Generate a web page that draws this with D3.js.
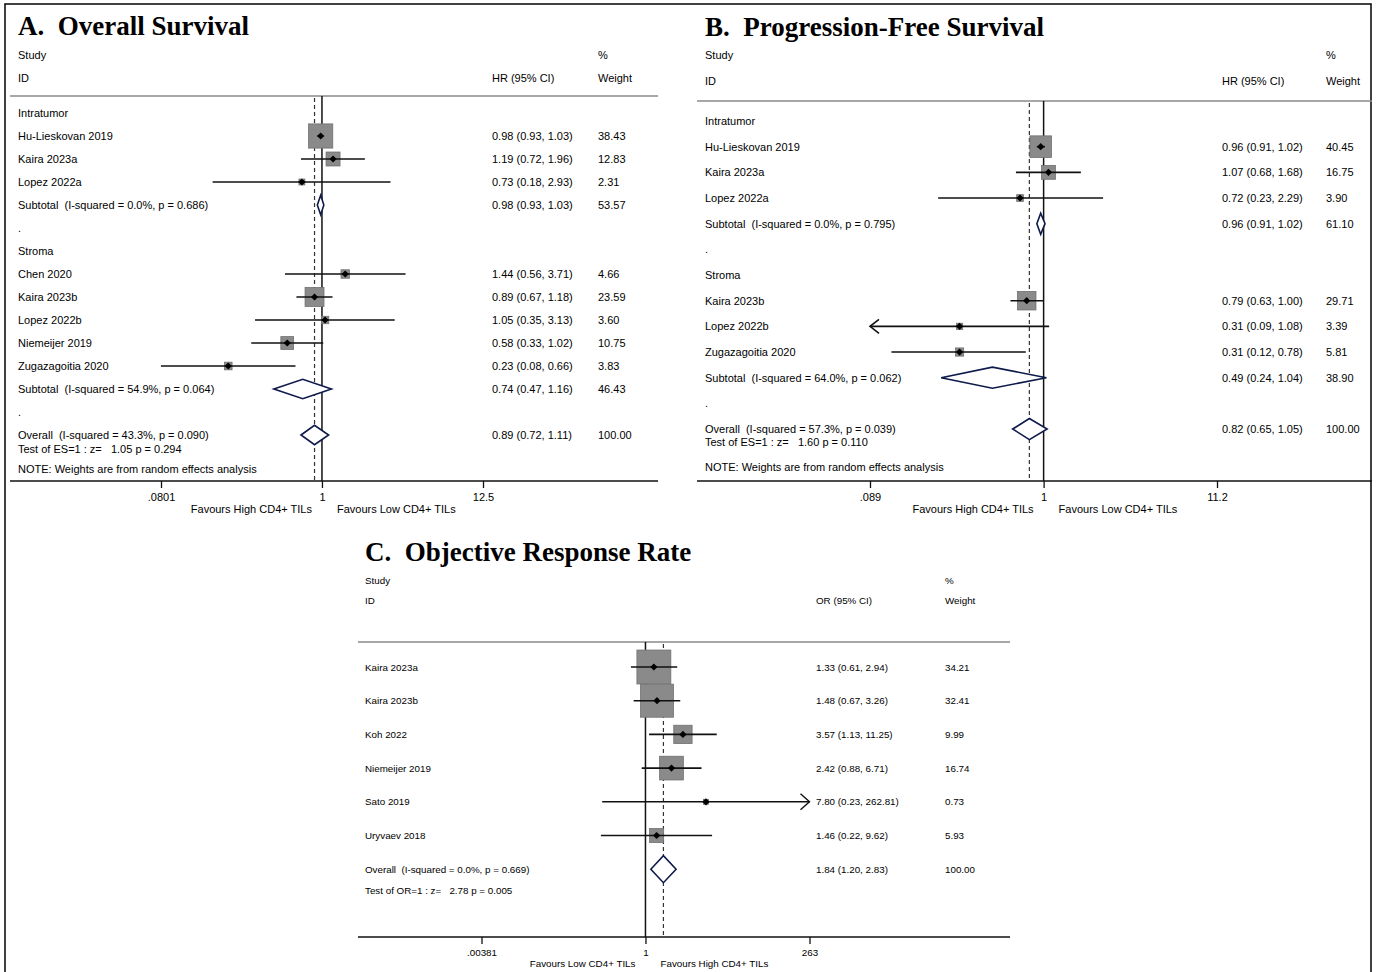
<!DOCTYPE html>
<html>
<head>
<meta charset="utf-8">
<script src="https://cdn.jsdelivr.net/npm/d3@7"></script>
<style>
  html, body { margin: 0; padding: 0; background: #fff; }
  svg { display: block; }
  text { font-family: "Liberation Sans", Arial, sans-serif; fill: #000; white-space: pre; }
  .title { font-family: "Liberation Serif", "Times New Roman", serif; font-weight: bold; }
</style>
</head>
<body>
<svg id="chart" width="1376" height="972"></svg>
<script>
// ---- Overall survival (hazard ratios) ----
const osRows = [
  { kind: "group", label: "Intratumor" },
  { kind: "study", label: "Hu-Lieskovan 2019", est: 0.98, lo: 0.93, hi: 1.03, w: 38.43 },
  { kind: "study", label: "Kaira 2023a", est: 1.19, lo: 0.72, hi: 1.96, w: 12.83 },
  { kind: "study", label: "Lopez 2022a", est: 0.73, lo: 0.18, hi: 2.93, w: 2.31 },
  { kind: "subtotal", label: "Subtotal  (I-squared = 0.0%, p = 0.686)", est: 0.98, lo: 0.93, hi: 1.03, w: 53.57 },
  { kind: "blank", label: "." },
  { kind: "group", label: "Stroma" },
  { kind: "study", label: "Chen 2020", est: 1.44, lo: 0.56, hi: 3.71, w: 4.66 },
  { kind: "study", label: "Kaira 2023b", est: 0.89, lo: 0.67, hi: 1.18, w: 23.59 },
  { kind: "study", label: "Lopez 2022b", est: 1.05, lo: 0.35, hi: 3.13, w: 3.60 },
  { kind: "study", label: "Niemeijer 2019", est: 0.58, lo: 0.33, hi: 1.02, w: 10.75 },
  { kind: "study", label: "Zugazagoitia 2020", est: 0.23, lo: 0.08, hi: 0.66, w: 3.83 },
  { kind: "subtotal", label: "Subtotal  (I-squared = 54.9%, p = 0.064)", est: 0.74, lo: 0.47, hi: 1.16, w: 46.43 },
  { kind: "blank", label: "." },
  { kind: "overall", label: "Overall  (I-squared = 43.3%, p = 0.090)", est: 0.89, lo: 0.72, hi: 1.11, w: 100.00 }
];
const osTest = "Test of ES=1 : z=   1.05 p = 0.294";
const osTicks = [0.0801, 1, 12.5];
const osTickLabels = [".0801", "1", "12.5"];

// ---- Progression-free survival (hazard ratios) ----
const pfsRows = [
  { kind: "group", label: "Intratumor" },
  { kind: "study", label: "Hu-Lieskovan 2019", est: 0.96, lo: 0.91, hi: 1.02, w: 40.45 },
  { kind: "study", label: "Kaira 2023a", est: 1.07, lo: 0.68, hi: 1.68, w: 16.75 },
  { kind: "study", label: "Lopez 2022a", est: 0.72, lo: 0.23, hi: 2.29, w: 3.90 },
  { kind: "subtotal", label: "Subtotal  (I-squared = 0.0%, p = 0.795)", est: 0.96, lo: 0.91, hi: 1.02, w: 61.10 },
  { kind: "blank", label: "." },
  { kind: "group", label: "Stroma" },
  { kind: "study", label: "Kaira 2023b", est: 0.79, lo: 0.63, hi: 1.00, w: 29.71 },
  { kind: "study", label: "Lopez 2022b", est: 0.31, lo: 0.09, hi: 1.08, w: 3.39, clipLo: true },
  { kind: "study", label: "Zugazagoitia 2020", est: 0.31, lo: 0.12, hi: 0.78, w: 5.81 },
  { kind: "subtotal", label: "Subtotal  (I-squared = 64.0%, p = 0.062)", est: 0.49, lo: 0.24, hi: 1.04, w: 38.90 },
  { kind: "blank", label: "." },
  { kind: "overall", label: "Overall  (I-squared = 57.3%, p = 0.039)", est: 0.82, lo: 0.65, hi: 1.05, w: 100.00 }
];
const pfsTest = "Test of ES=1 : z=   1.60 p = 0.110";
const pfsTicks = [0.089, 1, 11.2];
const pfsTickLabels = [".089", "1", "11.2"];

// ---- Objective response rate (odds ratios) ----
const orrRows = [
  { kind: "study", label: "Kaira 2023a", est: 1.33, lo: 0.61, hi: 2.94, w: 34.21 },
  { kind: "study", label: "Kaira 2023b", est: 1.48, lo: 0.67, hi: 3.26, w: 32.41 },
  { kind: "study", label: "Koh 2022", est: 3.57, lo: 1.13, hi: 11.25, w: 9.99 },
  { kind: "study", label: "Niemeijer 2019", est: 2.42, lo: 0.88, hi: 6.71, w: 16.74 },
  { kind: "study", label: "Sato 2019", est: 7.80, lo: 0.23, hi: 262.81, w: 0.73, clipHi: true },
  { kind: "study", label: "Uryvaev 2018", est: 1.46, lo: 0.22, hi: 9.62, w: 5.93 },
  { kind: "overall", label: "Overall  (I-squared = 0.0%, p = 0.669)", est: 1.84, lo: 1.20, hi: 2.83, w: 100.00 }
];
const orrTest = "Test of OR=1 : z=   2.78 p = 0.005";
const orrTicks = [0.00381, 1, 263];
const orrTickLabels = [".00381", "1", "263"];

const svg = d3.select("#chart");
svg.append("rect").attr("x", 0).attr("y", 0).attr("width", 1376).attr("height", 972).attr("fill", "#fff");
// outer frame
svg.append("rect").attr("x", 5).attr("y", 4).attr("width", 1366).attr("height", 980)
  .attr("fill", "none").attr("stroke", "#111").attr("stroke-width", 1.6);

const fmt = d3.format(".2f");

function forest(cfg) {
  const g = svg.append("g");
  const x = d3.scaleLog().domain([cfg.ticks[0], cfg.ticks[2]]).range(cfg.tickRange);
  const rowY = i => cfg.rowY0 + i * cfg.rowStep;
  const fs = cfg.fontSize;

  // title and column headers
  g.append("text").attr("class", "title").attr("x", cfg.titleX).attr("y", cfg.titleY)
    .attr("font-size", cfg.titleSize).text(cfg.title);
  const head = [
    [cfg.labelX, cfg.headY1, "Study"], [cfg.labelX, cfg.headY2, "ID"],
    [cfg.estX, cfg.headY2, cfg.estHeader], [cfg.wX, cfg.headY1, "%"], [cfg.wX, cfg.headY2, "Weight"]
  ];
  head.forEach(([hx, hy, t]) => g.append("text").attr("x", hx).attr("y", hy).attr("font-size", fs).text(t));

  // header rule
  g.append("line").attr("x1", cfg.left).attr("x2", cfg.right).attr("y1", cfg.ruleY).attr("y2", cfg.ruleY)
    .attr("stroke", "#8a8a8a").attr("stroke-width", 1.4);

  const overall = cfg.rows.find(r => r.kind === "overall");
  // no-effect line and pooled-estimate line
  g.append("line").attr("x1", x(1)).attr("x2", x(1)).attr("y1", cfg.ruleY).attr("y2", cfg.axisY)
    .attr("stroke", "#111").attr("stroke-width", 1.5);
  g.append("line").attr("x1", x(overall.est)).attr("x2", x(overall.est)).attr("y1", cfg.ruleY + 2).attr("y2", cfg.axisY)
    .attr("stroke", "#333").attr("stroke-width", 1.2).attr("stroke-dasharray", "4,3");

  const rows = g.selectAll("g.row").data(cfg.rows).join("g").attr("class", "row")
    .attr("transform", (d, i) => `translate(0,${rowY(i)})`);

  rows.append("text").attr("x", cfg.labelX).attr("y", fs * 0.36).attr("font-size", fs)
    .attr("fill", d => d.kind === "blank" ? "#666" : "#000").text(d => d.label);

  const withEst = rows.filter(d => d.est !== undefined);
  withEst.append("text").attr("x", cfg.estX).attr("y", fs * 0.36).attr("font-size", fs)
    .text(d => `${fmt(d.est)} (${fmt(d.lo)}, ${fmt(d.hi)})`);
  withEst.append("text").attr("x", cfg.wX).attr("y", fs * 0.36).attr("font-size", fs)
    .text(d => fmt(d.w));

  // study markers: weight-proportional box, CI line, point estimate
  const studies = rows.filter(d => d.kind === "study");
  studies.append("rect")
    .attr("x", d => x(d.est) - cfg.boxK * Math.sqrt(d.w) / 2)
    .attr("y", d => -cfg.boxK * Math.sqrt(d.w) / 2)
    .attr("width", d => cfg.boxK * Math.sqrt(d.w))
    .attr("height", d => cfg.boxK * Math.sqrt(d.w))
    .attr("fill", "#8a8a8a").attr("stroke", "#707070").attr("stroke-width", 0.8);
  const xmin = cfg.ticks[0], xmax = cfg.ticks[2];
  studies.append("line")
    .attr("x1", d => x(d.clipLo ? xmin : d.lo)).attr("x2", d => x(d.clipHi ? xmax : d.hi))
    .attr("y1", 0).attr("y2", 0).attr("stroke", "#111").attr("stroke-width", 1.6);
  studies.filter(d => d.clipLo).append("path")
    .attr("d", d => `M${x(xmin) + 9},-7 L${x(xmin)},0 L${x(xmin) + 9},7`)
    .attr("fill", "none").attr("stroke", "#111").attr("stroke-width", 1.6);
  studies.filter(d => d.clipHi).append("path")
    .attr("d", d => `M${x(xmax) - 9},-8 L${x(xmax)},0 L${x(xmax) - 9},8`)
    .attr("fill", "none").attr("stroke", "#111").attr("stroke-width", 1.4);
  studies.append("path")
    .attr("d", d => { const cx = x(d.est), s = 3.6; return `M${cx - s},0 L${cx},${-s} L${cx + s},0 L${cx},${s} Z`; })
    .attr("fill", "#000");

  // pooled estimates as diamonds
  const pooled = rows.filter(d => d.kind === "subtotal" || d.kind === "overall");
  const h = cfg.rowStep * cfg.diamondFrac;
  pooled.append("path")
    .attr("d", d => `M${x(d.lo)},0 L${x(d.est)},${-h} L${x(d.hi)},0 L${x(d.est)},${h} Z`)
    .attr("fill", "#fff").attr("stroke", "#0d1a4a").attr("stroke-width", 1.6);

  const oi = cfg.rows.indexOf(overall);
  g.append("text").attr("x", cfg.labelX).attr("y", rowY(oi) + cfg.testDy + fs * 0.36).attr("font-size", fs).text(cfg.test);
  if (cfg.noteY) {
    g.append("text").attr("x", cfg.labelX).attr("y", cfg.noteY + fs * 0.36).attr("font-size", fs)
      .text("NOTE: Weights are from random effects analysis");
  }

  // x axis
  g.append("line").attr("x1", cfg.left).attr("x2", cfg.right).attr("y1", cfg.axisY).attr("y2", cfg.axisY)
    .attr("stroke", "#111").attr("stroke-width", 1.6);
  const axis = d3.axisBottom(x).tickValues(cfg.ticks).tickFormat((d, i) => cfg.tickLabels[i])
    .tickSize(7).tickPadding(5);
  const ag = g.append("g").attr("transform", `translate(0,${cfg.axisY})`).call(axis);
  ag.select(".domain").remove();
  ag.selectAll(".tick line").attr("stroke", "#111").attr("stroke-width", 1.3);
  ag.selectAll(".tick text").attr("font-size", fs).attr("fill", "#000")
    .attr("font-family", '"Liberation Sans", Arial, sans-serif');

  g.append("text").attr("x", x(1) - 10).attr("y", cfg.favY).attr("font-size", fs)
    .attr("text-anchor", "end").text(cfg.favours[0]);
  g.append("text").attr("x", x(1) + 15).attr("y", cfg.favY).attr("font-size", fs)
    .attr("text-anchor", "start").text(cfg.favours[1]);
}

forest({
  rows: osRows, test: osTest, ticks: osTicks, tickLabels: osTickLabels, tickRange: [161, 483],
  title: "A.  Overall Survival", titleX: 18, titleY: 35, titleSize: 27,
  headY1: 59, headY2: 82, labelX: 18, estX: 492, wX: 598, estHeader: "HR (95% CI)",
  left: 10, right: 658, ruleY: 96, axisY: 481, rowY0: 113, rowStep: 23, diamondFrac: 0.42,
  testDy: 14, noteY: 469, fontSize: 11, boxK: 3.9, favY: 513,
  favours: ["Favours High CD4+ TILs", "Favours Low CD4+ TILs"]
});

forest({
  rows: pfsRows, test: pfsTest, ticks: pfsTicks, tickLabels: pfsTickLabels, tickRange: [870, 1217],
  title: "B.  Progression-Free Survival", titleX: 705, titleY: 36, titleSize: 27,
  headY1: 59, headY2: 85, labelX: 705, estX: 1222, wX: 1326, estHeader: "HR (95% CI)",
  left: 697, right: 1372, ruleY: 101, axisY: 481, rowY0: 121, rowStep: 25.67, diamondFrac: 0.41,
  testDy: 13, noteY: 467, fontSize: 11, boxK: 3.4, favY: 513,
  favours: ["Favours High CD4+ TILs", "Favours Low CD4+ TILs"]
});

forest({
  rows: orrRows, test: orrTest, ticks: orrTicks, tickLabels: orrTickLabels, tickRange: [481.5, 809.5],
  title: "C.  Objective Response Rate", titleX: 365, titleY: 561, titleSize: 27,
  headY1: 584, headY2: 604, labelX: 365, estX: 816, wX: 945, estHeader: "OR (95% CI)",
  left: 358, right: 1010, ruleY: 642, axisY: 937, rowY0: 667, rowStep: 33.7, diamondFrac: 0.4,
  testDy: 21, noteY: null, fontSize: 9.8, boxK: 5.8, favY: 967,
  favours: ["Favours Low CD4+ TILs", "Favours High CD4+ TILs"]
});
</script>
</body>
</html>
